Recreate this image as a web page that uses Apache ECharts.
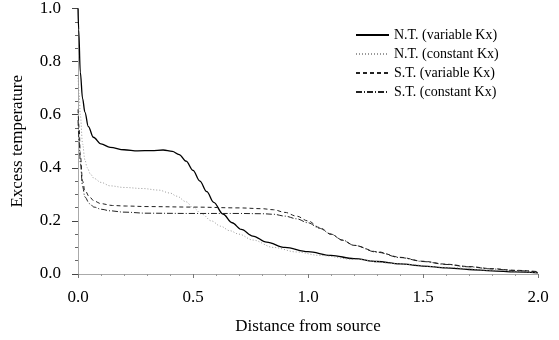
<!DOCTYPE html>
<html>
<head>
<meta charset="utf-8">
<script src="https://cdn.jsdelivr.net/npm/echarts@6/dist/echarts.min.js"></script>
<style>
html,body{margin:0;padding:0;background:#fff;}
#c{width:559px;height:340px;}
</style>
</head>
<body>
<div id="c"></div>
<script>
var seriesNames = ['N.T. (variable Kx)', 'N.T. (constant Kx)', 'S.T. (variable Kx)', 'S.T. (constant Kx)'];
var xTicks = ['0.0', '0.5', '1.0', '1.5', '2.0'];
var yTicks = ['0.0', '0.2', '0.4', '0.6', '0.8', '1.0'];

var ntVarX = [0, 0.003, 0.01, 0.02, 0.03, 0.045, 0.067, 0.1, 0.14, 0.2, 0.26, 0.32, 0.37, 0.41, 0.44, 0.47, 0.5, 0.53, 0.56, 0.59, 0.63, 0.67, 0.71, 0.76, 0.82, 0.9, 1.0, 1.1, 1.2, 1.3, 1.4, 1.5, 1.6, 1.7, 1.8, 1.9, 2.0];
var ntVarY = [1.0, 0.92, 0.76, 0.66, 0.61, 0.555, 0.515, 0.49, 0.477, 0.468, 0.464, 0.465, 0.467, 0.462, 0.45, 0.425, 0.39, 0.35, 0.31, 0.27, 0.226, 0.193, 0.168, 0.143, 0.12, 0.1, 0.084, 0.07, 0.058, 0.047, 0.038, 0.03, 0.023, 0.017, 0.012, 0.008, 0.004];

var ntConX = [0, 0.005, 0.01, 0.02, 0.03, 0.04, 0.055, 0.07, 0.1, 0.14, 0.2, 0.28, 0.35, 0.4, 0.43, 0.47, 0.5, 0.54, 0.58, 0.62, 0.66, 0.7, 0.76, 0.85, 0.95, 1.05, 1.2, 1.4, 1.6, 1.8, 2.0];
var ntConY = [0.75, 0.68, 0.6, 0.49, 0.43, 0.40, 0.375, 0.36, 0.345, 0.332, 0.326, 0.322, 0.316, 0.305, 0.293, 0.272, 0.25, 0.225, 0.2, 0.18, 0.163, 0.15, 0.128, 0.1, 0.083, 0.07, 0.055, 0.038, 0.025, 0.014, 0.005];

var stVarX = [0, 0.005, 0.01, 0.02, 0.03, 0.05, 0.07, 0.1, 0.15, 0.21, 0.3, 0.5, 0.7, 0.8, 0.85, 0.9, 0.95, 1.0, 1.05, 1.1, 1.15, 1.2, 1.3, 1.4, 1.5, 1.6, 1.7, 1.8, 1.9, 2.0];
var stVarY = [0.62, 0.55, 0.45, 0.35, 0.315, 0.29, 0.275, 0.265, 0.258, 0.256, 0.254, 0.252, 0.249, 0.246, 0.242, 0.232, 0.218, 0.2, 0.175, 0.15, 0.127, 0.108, 0.084, 0.063, 0.048, 0.037, 0.028, 0.02, 0.014, 0.009];

var stConX = [0, 0.005, 0.01, 0.02, 0.03, 0.05, 0.07, 0.1, 0.14, 0.2, 0.3, 0.5, 0.7, 0.8, 0.85, 0.9, 0.95, 1.0, 1.05, 1.1, 1.15, 1.2, 1.3, 1.4, 1.5, 1.6, 1.7, 1.8, 1.9, 2.0];
var stConY = [0.58, 0.5, 0.42, 0.33, 0.29, 0.265, 0.252, 0.244, 0.238, 0.233, 0.229, 0.228, 0.228, 0.227, 0.225, 0.218, 0.208, 0.193, 0.172, 0.15, 0.128, 0.108, 0.082, 0.062, 0.047, 0.036, 0.027, 0.019, 0.013, 0.008];

function pairs(xs, ys) { return xs.map(function (x, i) { return [x, ys[i]]; }); }

var FONT = '"Liberation Serif", "DejaVu Serif", serif';
var chart = echarts.init(document.getElementById('c'), null, {renderer: 'canvas'});
var styles = [
  {color: '#000', width: 1.3, type: 'solid'},
  {color: '#999', width: 1, type: [1, 2]},
  {color: '#222', width: 1, type: [4, 3]},
  {color: '#222', width: 1, type: [6, 2, 1, 2]}
];
var datas = [pairs(ntVarX, ntVarY), pairs(ntConX, ntConY), pairs(stVarX, stVarY), pairs(stConX, stConY)];

chart.setOption({
  animation: false,
  backgroundColor: '#fff',
  grid: {left: 78, right: 21, top: 7, bottom: 66},
  legend: {
    orient: 'vertical', left: 350, top: 23, itemWidth: 33, itemHeight: 12, itemGap: 5,
    itemStyle: {opacity: 0},
    textStyle: {fontFamily: FONT, fontSize: 14, color: '#000'},
    data: seriesNames
  },
  xAxis: {
    type: 'value', min: 0, max: 2, interval: 0.5,
    name: 'Distance from source', nameLocation: 'middle', nameGap: 44,
    nameTextStyle: {fontFamily: FONT, fontSize: 17, color: '#000'},
    axisLine: {lineStyle: {color: '#aaa', width: 1}},
    axisTick: {show: true, length: 4, lineStyle: {color: '#777'}},
    minorTick: {show: true, splitNumber: 5, length: 2, lineStyle: {color: '#999'}},
    splitLine: {show: false},
    axisLabel: {fontFamily: FONT, fontSize: 17, color: '#000', margin: 15,
      formatter: function (v) { return xTicks[Math.round(v / 0.5)]; }}
  },
  yAxis: {
    type: 'value', min: 0, max: 1, interval: 0.2,
    name: 'Excess temperature', nameLocation: 'middle', nameGap: 52,
    nameTextStyle: {fontFamily: FONT, fontSize: 17, color: '#000'},
    axisLine: {show: true, lineStyle: {color: '#aaa', width: 1}},
    axisTick: {show: true, length: 6, lineStyle: {color: '#444'}},
    minorTick: {show: true, splitNumber: 4, length: 3, lineStyle: {color: '#666'}},
    splitLine: {show: false},
    axisLabel: {fontFamily: FONT, fontSize: 17, color: '#000', margin: 17,
      formatter: function (v) { return yTicks[Math.round(v / 0.2)]; }}
  },
  series: seriesNames.map(function (n, i) {
    return {
      name: n, type: 'line', data: datas[i], showSymbol: false, symbol: 'none',
      smooth: 0.35, smoothMonotone: 'x',
      lineStyle: styles[i], itemStyle: {color: styles[i].color}
    };
  })
});
</script>
</body>
</html>
